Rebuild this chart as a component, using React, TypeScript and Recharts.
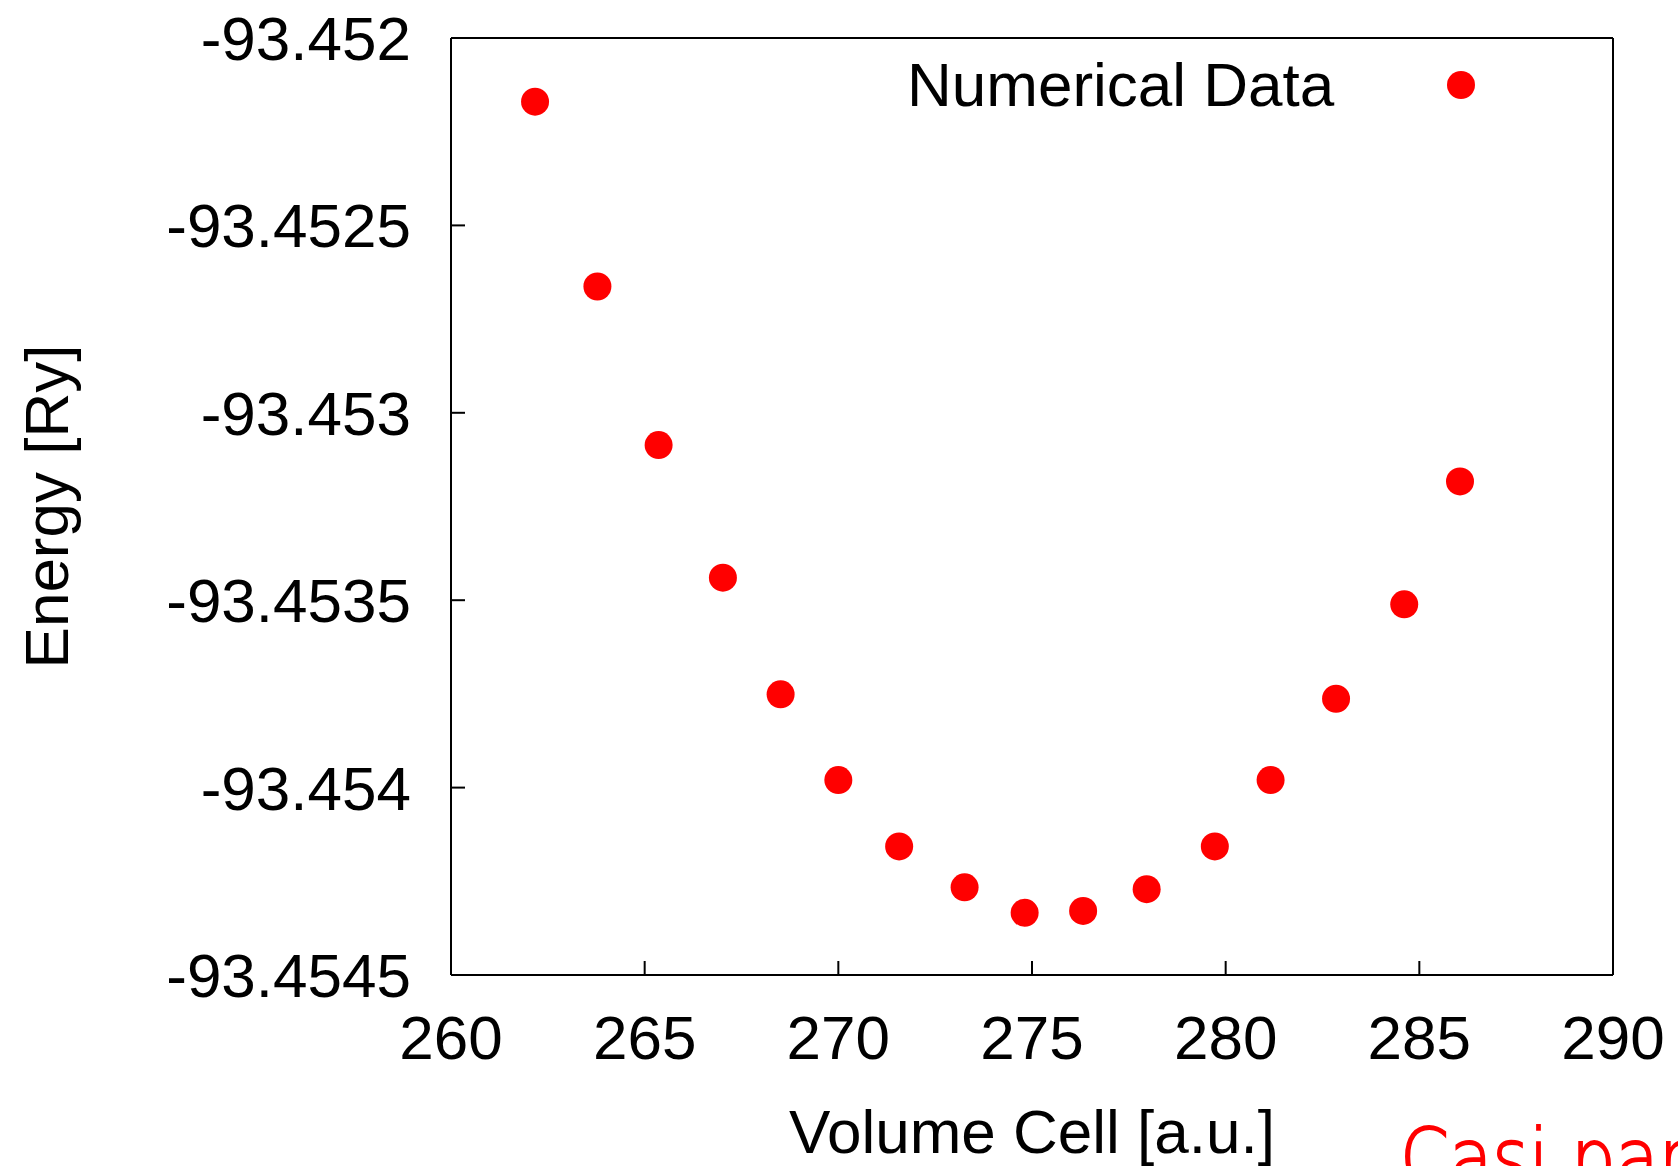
import { ScatterChart, Scatter, XAxis, YAxis, Legend } from "recharts";

const volumes = [
  262.17, 263.78, 265.36, 267.02, 268.51, 270.0, 271.57, 273.26,
  274.81, 276.32, 277.96, 279.72, 281.16, 282.85, 284.61, 286.05,
];

const energies = [
  -93.452170, -93.452663, -93.453086, -93.453440, -93.453751, -93.453980,
  -93.454157, -93.454266, -93.454334, -93.454329, -93.454271, -93.454157,
  -93.453980, -93.453763, -93.453511, -93.453183,
];

const xTicks = [260, 265, 270, 275, 280, 285, 290];
const yTicks = [-93.452, -93.4525, -93.453, -93.4535, -93.454, -93.4545];

const points = volumes.map((v, i) => ({ volume: v, energy: energies[i] }));

const FONT = "'Liberation Sans', Arial, Helvetica, sans-serif";
const FS = 62;
const TICK_LEN = 14;

const BottomTick = ({ x, y, payload }: any) => (
  <g>
    <line x1={x} x2={x} y1={y} y2={y - TICK_LEN} stroke="#000" strokeWidth={2} />
    <text x={x} y={y + 84} textAnchor="middle" fontSize={FS} fontFamily={FONT} fill="#000">
      {payload.value}
    </text>
  </g>
);

const TopTick = ({ x, y }: any) => (
  <line x1={x} x2={x} y1={y} y2={y + TICK_LEN} stroke="#000" strokeWidth={2} />
);

const LeftTick = ({ x, y, payload }: any) => (
  <g>
    <line x1={x} x2={x + TICK_LEN} y1={y} y2={y} stroke="#000" strokeWidth={2} />
    <text x={x - 40} y={y + 22} textAnchor="end" fontSize={FS} fontFamily={FONT} fill="#000">
      {payload.value}
    </text>
  </g>
);

const RightTick = ({ x, y }: any) => (
  <line x1={x} x2={x - TICK_LEN} y1={y} y2={y} stroke="#000" strokeWidth={2} />
);

const XLabel = ({ viewBox }: any) => (
  <text
    x={viewBox.x + viewBox.width / 2}
    y={viewBox.y + 178}
    textAnchor="middle"
    fontSize={FS}
    fontFamily={FONT}
    fill="#000"
  >
    Volume Cell [a.u.]
  </text>
);

const YLabel = ({ viewBox }: any) => {
  const cx = 46;
  const cy = viewBox.y + viewBox.height / 2;
  return (
    <text
      x={cx}
      y={cy}
      transform={`rotate(-90, ${cx}, ${cy})`}
      textAnchor="middle"
      dominantBaseline="central"
      fontSize={FS}
      fontFamily={FONT}
      fill="#000"
    >
      Energy [Ry]
    </text>
  );
};

const LegendBox = () => (
  <svg width={620} height={80}>
    <text x={27} y={60} fontSize={FS} fontFamily={FONT} fill="#000">
      Numerical Data
    </text>
    <circle cx={581} cy={39} r={14} fill="#ff0000" />
  </svg>
);

const axisLine = { stroke: "#000", strokeWidth: 2 };

export default function App() {
  return (
    <div
      style={{
        position: "absolute",
        left: 0,
        top: 0,
        width: 1678,
        height: 1166,
        overflow: "hidden",
        background: "#fff",
      }}
    >
      <ScatterChart
        width={1678}
        height={1166}
        margin={{ top: 28, right: 55, bottom: 131, left: 391 }}
      >
        <XAxis
          xAxisId="b"
          type="number"
          dataKey="volume"
          domain={[260, 290]}
          ticks={xTicks}
          height={60}
          tickSize={0}
          tickMargin={0}
          tickLine={false}
          axisLine={axisLine}
          tick={<BottomTick />}
          interval={0}
          label={<XLabel />}
        />
        <XAxis
          xAxisId="t"
          orientation="top"
          type="number"
          domain={[260, 290]}
          ticks={xTicks}
          height={10}
          tickSize={0}
          tickMargin={0}
          tickLine={false}
          axisLine={axisLine}
          tick={<TopTick />}
          interval={0}
        />
        <YAxis
          yAxisId="l"
          type="number"
          dataKey="energy"
          domain={[-93.4545, -93.452]}
          ticks={yTicks}
          width={60}
          tickSize={0}
          tickMargin={0}
          tickLine={false}
          axisLine={axisLine}
          tick={<LeftTick />}
          interval={0}
          label={<YLabel />}
        />
        <YAxis
          yAxisId="r"
          orientation="right"
          type="number"
          domain={[-93.4545, -93.452]}
          ticks={yTicks}
          width={10}
          tickSize={0}
          tickMargin={0}
          tickLine={false}
          axisLine={axisLine}
          tick={<RightTick />}
          interval={0}
        />
        <Legend
          layout="horizontal"
          verticalAlign="middle"
          align="center"
          wrapperStyle={{ left: 880, top: 46, width: 620 }}
          content={<LegendBox />}
        />
        <Scatter
          name="Numerical Data"
          xAxisId="b"
          yAxisId="l"
          data={points}
          fill="#ff0000"
          shape={(p: any) => <circle cx={p.cx} cy={p.cy} r={14} fill="#ff0000" />}
          isAnimationActive={false}
        />
      </ScatterChart>
      <svg
        width={1678}
        height={1166}
        style={{ position: "absolute", left: 0, top: 0, pointerEvents: "none" }}
      >
        <text
          x={1400}
          y={1186}
          fontSize={80}
          fontFamily="'DejaVu Sans', sans-serif"
          fontWeight={200}
          fill="#ff0000"
          stroke="#ff0000"
          strokeWidth={1.8}
          transform="translate(1400 0) scale(0.88 1) translate(-1400 0)"
        >
          Casi parabólica
        </text>
      </svg>
    </div>
  );
}
